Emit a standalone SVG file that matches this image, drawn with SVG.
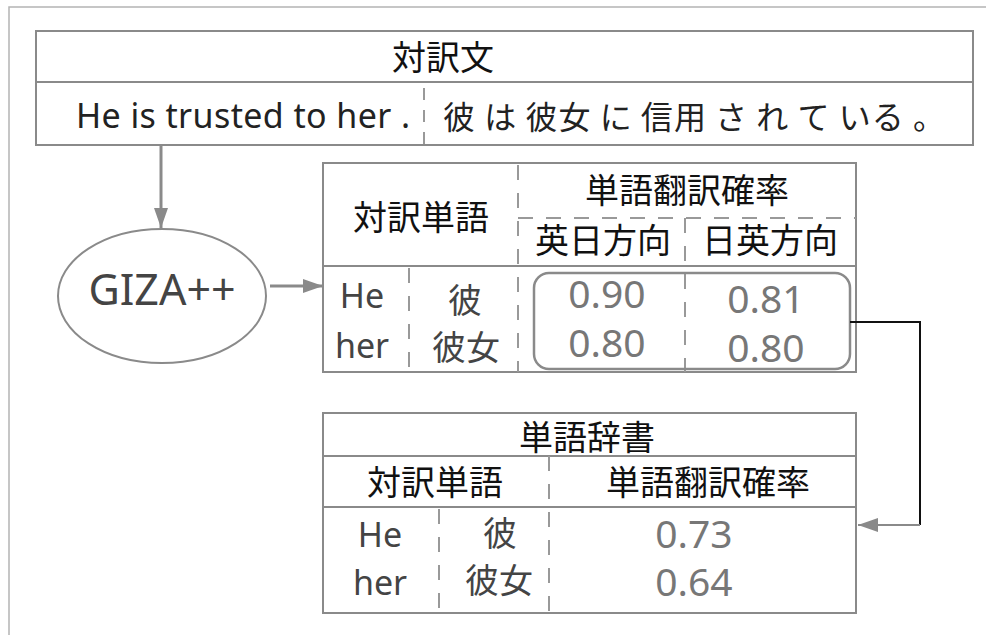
<svg xmlns="http://www.w3.org/2000/svg" width="986" height="635" viewBox="0 0 986 635">
<style>
.frame{fill:none;stroke:#b4b4b4;stroke-width:1.5}
.box{fill:#fff;stroke:#8a8a8a;stroke-width:2}
.line{stroke:#8a8a8a;stroke-width:2;fill:none}
.dash{stroke:#999;stroke-width:2;fill:none;stroke-dasharray:15 13}
.dash-s{stroke:#999;stroke-width:2;fill:none;stroke-dasharray:12 10}
.jp{font-family:"Noto Sans CJK JP","Noto Sans",sans-serif;font-size:34px;fill:#111}
.jpg{font-family:"Noto Sans CJK JP","Noto Sans",sans-serif;font-size:34px;fill:#444}
.lat{font-family:"Noto Sans","Noto Sans CJK JP",sans-serif;font-size:34px;fill:#444}
.num{font-family:"Noto Sans",sans-serif;font-size:39px;fill:#777}
.c{text-anchor:middle}
</style>
<defs>
<marker id="ah" markerWidth="20" markerHeight="14" refX="20" refY="7" orient="auto" markerUnits="userSpaceOnUse">
<path d="M0,0 L20,7 L0,14 Z" fill="#8a8a8a"/>
</marker>
</defs>
<rect width="986" height="635" fill="#fff"/>
<rect class="frame" x="9" y="7" width="1000" height="700"/>

<g id="parallel-text">
<rect class="box" x="36" y="31" width="937" height="114"/>
<line class="line" x1="36" y1="82" x2="973" y2="82"/>
<line class="dash-s" x1="424" y1="88" x2="424" y2="145"/>
<text class="jp c" x="443" y="70">対訳文</text>
<text x="76" y="128" font-family="'Noto Sans',sans-serif" font-size="34" fill="#222" textLength="334" lengthAdjust="spacing">He is trusted to her .</text>
<text x="443" y="129" font-family="'Noto Sans CJK JP',sans-serif" font-size="32" fill="#222" textLength="502" lengthAdjust="spacing" xml:space="preserve">彼 は 彼女 に 信用 さ れ て いる 。</text>
</g>

<g id="giza">
<ellipse cx="162" cy="296" rx="104" ry="67" fill="#fff" stroke="#8a8a8a" stroke-width="2"/>
<text x="162" y="305" class="c" font-family="'Noto Sans',sans-serif" font-size="43" fill="#444">GIZA++</text>
</g>

<g id="word-pairs">
<rect class="box" x="323" y="163" width="533" height="209"/>
<line class="line" x1="323" y1="266" x2="856" y2="266"/>
<line class="dash" x1="518" y1="165" x2="518" y2="372"/>
<line class="dash" x1="518" y1="218" x2="856" y2="218"/>
<line class="dash" x1="685" y1="218" x2="685" y2="372"/>
<line class="dash" x1="409" y1="268" x2="409" y2="372"/>
<text class="jp c" x="421" y="230">対訳単語</text>
<text class="jp c" x="687" y="203">単語翻訳確率</text>
<text class="jp c" x="603" y="253">英日方向</text>
<text class="jp c" x="770" y="253">日英方向</text>
<text class="lat c" x="362" y="308">He</text>
<text class="lat c" x="362" y="358">her</text>
<text class="jpg c" x="465" y="313">彼</text>
<text class="jpg c" x="466" y="360">彼女</text>
<rect x="534" y="273" width="316" height="96" rx="15" fill="none" stroke="#8a8a8a" stroke-width="2.5"/>
<text class="num c" x="607" y="308">0.90</text>
<text class="num c" x="766" y="313">0.81</text>
<text class="num c" x="607" y="357">0.80</text>
<text class="num c" x="766" y="362">0.80</text>
</g>

<g id="dictionary">
<rect class="box" x="323" y="413" width="533" height="200"/>
<line class="line" x1="323" y1="456" x2="856" y2="456"/>
<line class="line" x1="323" y1="507" x2="856" y2="507"/>
<line class="dash" x1="549" y1="456" x2="549" y2="613"/>
<line class="dash" x1="439" y1="509" x2="439" y2="613"/>
<text class="jp c" x="587" y="450">単語辞書</text>
<text class="jp c" x="435" y="495">対訳単語</text>
<text class="jp c" x="708" y="495">単語翻訳確率</text>
<text class="lat c" x="380" y="547">He</text>
<text class="lat c" x="380" y="595">her</text>
<text class="jpg c" x="500" y="546">彼</text>
<text class="jpg c" x="499" y="593">彼女</text>
<text class="num c" x="694" y="548">0.73</text>
<text class="num c" x="694" y="596">0.64</text>
</g>

<g id="connectors">
<line x1="161" y1="145" x2="161" y2="228" stroke="#8a8a8a" stroke-width="3" marker-end="url(#ah)"/>
<line x1="270" y1="286" x2="323" y2="286" stroke="#8a8a8a" stroke-width="3" marker-end="url(#ah)"/>
<polyline points="850,322 920,322 920,525" fill="none" stroke="#111" stroke-width="2"/>
<line x1="920" y1="525" x2="858" y2="525" stroke="#8a8a8a" stroke-width="2" marker-end="url(#ah)"/>
</g>
</svg>
